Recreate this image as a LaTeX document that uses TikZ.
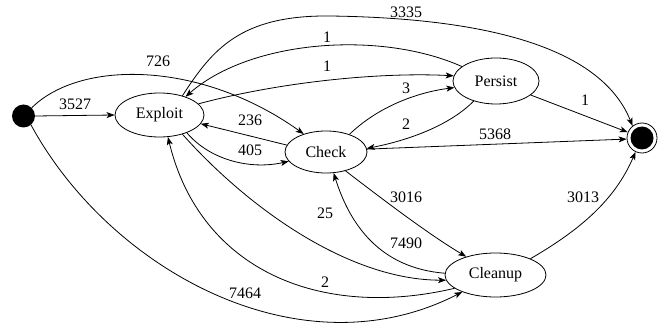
\documentclass[tikz,border=0pt]{standalone}
\usepackage{fontspec}
\setmainfont{Liberation Serif}
\usetikzlibrary{shapes.geometric,arrows.meta}

\begin{document}
\begin{tikzpicture}[x=1pt,y=-1pt,
  every node/.style={font=\fontsize{16}{18}\selectfont},
  state/.style={ellipse,draw,line width=0.8pt,inner sep=0pt},
  lbl/.style={inner sep=1pt},
  edge/.style={line width=0.8pt,-{Stealth[length=8pt,width=6pt,inset=2pt]}}
]
\useasboundingbox (0,0) rectangle (661,331);

% states
\node[circle,fill=black,minimum size=23pt,inner sep=0pt] (start) at (23.5,116) {};
\node[state,minimum width=89pt,minimum height=44pt] (exploit) at (159.5,115) {Exploit};
\node[state,minimum width=82pt,minimum height=42pt] (check) at (326,152) {Check};
\node[state,minimum width=86pt,minimum height=46pt] (persist) at (496,81) {Persist};
\node[state,minimum width=101pt,minimum height=44pt] (cleanup) at (495.5,275) {Cleanup};
\node[circle,draw,line width=0.8pt,minimum size=30pt,inner sep=0pt] (final) at (642,138) {};
\fill (final.center) circle (11.5);

% transitions
\draw[edge] (start.0) -- (exploit.180);
\draw[edge] (start.45) .. controls (80,60) and (200,60) .. (check.141);
\draw[edge] (start.-50) .. controls (110,270) and (300,375) .. (cleanup.207);
\draw[edge] (exploit.16) .. controls (280,82) and (380,72) .. (persist.173);
\draw[edge] (persist.157) .. controls (380,30) and (250,40) .. (exploit.35);
\draw[edge] (exploit.40) .. controls (212,50) and (240,15) .. (330,16)
            .. controls (480,18) and (600,45) .. (final.128);
\draw[edge] (check.170) -- (exploit.-12);
\draw[edge] (exploit.-33) .. controls (210,160) and (250,170) .. (check.194);
\draw[edge] (check.37) .. controls (380,105) and (420,92) .. (persist.189);
\draw[edge] (persist.222) .. controls (450,125) and (410,140) .. (check.5);
\draw[edge] (check.4) -- (final.184);
\draw[edge] (persist.-22) -- (final.158);
\draw[edge] (check.-44) .. controls (390,205) and (430,235) .. (cleanup.148);
\draw[edge] (cleanup.178) .. controls (380,268) and (350,225) .. (check.-70);
\draw[edge] (exploit.-40) .. controls (250,210) and (350,280) .. (cleanup.186);
\draw[edge] (cleanup.198) .. controls (320,320) and (200,270) .. (exploit.-69);
\draw[edge] (cleanup.25) .. controls (580,230) and (615,200) .. (final.245);

% transition counts
\node[lbl] (l3527) at (75,104) {3527};
\node[lbl] (l726) at (158,61) {726};
\node[lbl] (l7464) at (245,293) {7464};
\node[lbl] (l1a) at (327,66) {1};
\node[lbl] (l1b) at (327,37) {1};
\node[lbl] (l3335) at (406,12) {3335};
\node[lbl] (l236) at (250,120) {236};
\node[lbl] (l405) at (250,150) {405};
\node[lbl] (l3) at (406,88) {3};
\node[lbl] (l2a) at (406,124) {2};
\node[lbl] (l5368) at (495,134) {5368};
\node[lbl] (l1c) at (585,100) {1};
\node[lbl] (l3016) at (406,197) {3016};
\node[lbl] (l7490) at (406,243) {7490};
\node[lbl] (l25) at (325,213) {25};
\node[lbl] (l2b) at (325,282) {2};
\node[lbl] (l3013) at (583,197) {3013};
\end{tikzpicture}
\end{document}
